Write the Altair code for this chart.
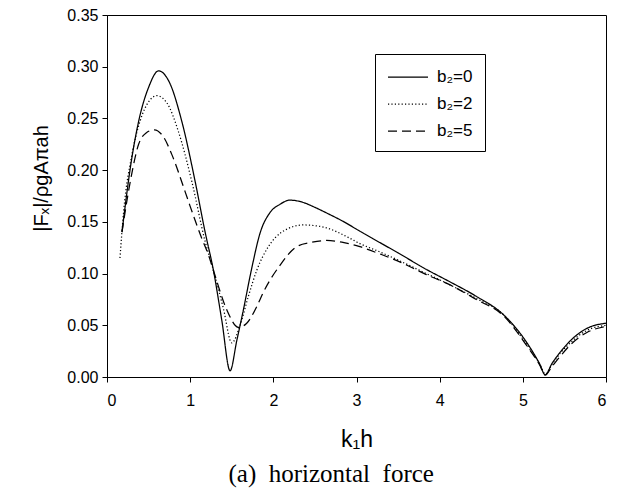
import altair as alt
import pandas as pd

# ---- data ----
x_b0 = [0.18, 0.22, 0.28, 0.38, 0.50, 0.62, 0.75, 0.90, 1.06, 1.18, 1.28, 1.38, 1.48,
        1.56, 1.64, 1.74, 1.84, 1.96, 2.08, 2.20, 2.35, 2.50, 2.68, 2.85, 3.04, 3.28,
        3.50, 3.84, 4.10, 4.44, 4.77, 5.05, 5.20, 5.27, 5.35, 5.45, 5.57, 5.77, 6.00]
y_b0 = [0.140, 0.166, 0.202, 0.247, 0.280, 0.296, 0.285, 0.247, 0.189, 0.140, 0.103, 0.055, 0.006,
        0.035, 0.065, 0.105, 0.139, 0.159, 0.167, 0.171, 0.169, 0.164, 0.157, 0.150, 0.141, 0.130,
        0.120, 0.104, 0.093, 0.078, 0.060, 0.033, 0.013, 0.002, 0.013, 0.024, 0.035, 0.047, 0.052]

x_b2 = [0.156, 0.20, 0.30, 0.40, 0.50, 0.60, 0.72, 0.86, 1.02, 1.18, 1.28, 1.40, 1.50,
        1.60, 1.70, 1.80, 1.94, 2.10, 2.36, 2.60, 2.90, 3.04, 3.28, 3.50, 3.84, 4.10,
        4.44, 4.77, 5.05, 5.20, 5.27, 5.35, 5.45, 5.57, 5.77, 6.00]
y_b2 = [0.115, 0.160, 0.215, 0.248, 0.266, 0.272, 0.265, 0.237, 0.189, 0.131, 0.103, 0.066, 0.033,
        0.050, 0.078, 0.103, 0.126, 0.140, 0.147, 0.145, 0.135, 0.129, 0.121, 0.113, 0.100, 0.090,
        0.076, 0.060, 0.031, 0.013, 0.003, 0.012, 0.023, 0.033, 0.045, 0.050]

x_b5 = [0.18, 0.28, 0.38, 0.47, 0.57, 0.68, 0.78, 0.94, 1.00, 1.14, 1.22, 1.28, 1.44,
        1.58, 1.68, 1.80, 1.88, 2.08, 2.28, 2.45, 2.64, 2.85, 3.04, 3.28, 3.50, 3.84,
        4.10, 4.44, 4.77, 5.05, 5.20, 5.27, 5.35, 5.45, 5.57, 5.77, 6.00]
y_b5 = [0.140, 0.189, 0.225, 0.236, 0.239, 0.232, 0.215, 0.179, 0.165, 0.134, 0.118, 0.103, 0.065,
        0.048, 0.052, 0.068, 0.082, 0.108, 0.126, 0.130, 0.132, 0.130, 0.126, 0.119, 0.112, 0.099,
        0.090, 0.075, 0.059, 0.030, 0.012, 0.002, 0.010, 0.020, 0.031, 0.043, 0.049]

series_names = ["b\u2082=0", "b\u2082=2", "b\u2082=5"]
x_ticks = [0, 1, 2, 3, 4, 5, 6]
y_ticks = [0.00, 0.05, 0.10, 0.15, 0.20, 0.25, 0.30, 0.35]

rows = []
for name, xs, ys in zip(series_names, [x_b0, x_b2, x_b5], [y_b0, y_b2, y_b5]):
    for i, (a, b) in enumerate(zip(xs, ys)):
        rows.append({"k1h": a, "F": b, "series": name, "order": i})
df = pd.DataFrame(rows)

sans = "Liberation Sans"

chart = alt.Chart(df).mark_line(
    color="black", strokeWidth=1.25, interpolate="monotone"
).encode(
    x=alt.X("k1h:Q",
            scale=alt.Scale(domain=[0, 6], nice=False),
            axis=alt.Axis(values=x_ticks, format="d", title="k\u2081h",
                          titleFontSize=23, titlePadding=20, labelPadding=10)),
    y=alt.Y("F:Q",
            scale=alt.Scale(domain=[0, 0.35], nice=False),
            axis=alt.Axis(values=y_ticks, format=".2f", title="|F\u2093|/\u03c1gA\u03c0ah",
                          titleFontSize=20, titlePadding=15, labelPadding=4,
                          titleY=163, titleAlign="center")),
    strokeDash=alt.StrokeDash(
        "series:N",
        scale=alt.Scale(domain=series_names, range=[[1, 0], [1.2, 2.2], [9, 5]]),
        legend=alt.Legend(title=None, orient="none", legendX=268, legendY=39,
                          strokeColor="black", fillColor="white", padding=12,
                          symbolType="M-1,0H3", symbolSize=400, symbolStrokeWidth=1.25,
                          symbolStrokeColor="black", symbolFillColor="transparent",
                          labelFontSize=17, labelFont=sans,
                          labelColor="black", labelOffset=28, rowPadding=8)),
    order="order:Q",
).properties(
    width=499,
    height=362,
    padding={"left": 107, "top": 15, "right": 17, "bottom": 113},
    autosize=alt.AutoSizeParams(type="none"),
    title=alt.TitleParams(text="(a)\u00a0\u00a0horizontal\u00a0\u00a0force", orient="bottom",
                          font="Liberation Serif", fontSize=25, fontWeight="normal",
                          color="black", anchor="middle", frame="bounds", offset=11, dx=11),
).configure_view(
    stroke="black", strokeWidth=1
).configure_axis(
    grid=False, domainColor="black", tickColor="black", tickSize=5,
    labelFont=sans, labelFontSize=16, labelColor="black",
    titleFont=sans, titleFontWeight="normal", titleColor="black"
)

chart.save("out.html", embed_options={"renderer": "svg", "actions": False})
